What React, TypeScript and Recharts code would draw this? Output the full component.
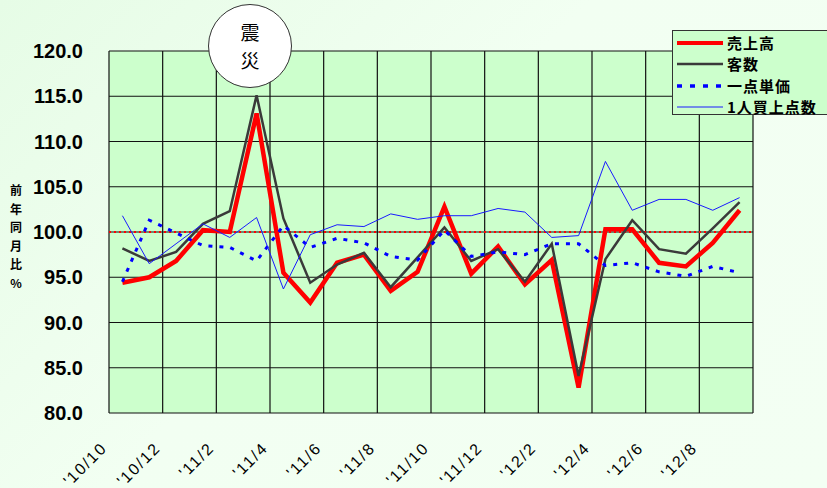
import React from 'react';
import {
    LineChart,
    Line,
    XAxis,
    YAxis,
    CartesianGrid,
    ReferenceLine,
} from 'recharts';

// 24 months, '10/10 .. '12/9
const months = [
    "'10/10", "'10/11", "'10/12", "'11/1", "'11/2", "'11/3", "'11/4", "'11/5",
    "'11/6", "'11/7", "'11/8", "'11/9", "'11/10", "'11/11", "'11/12", "'12/1",
    "'12/2", "'12/3", "'12/4", "'12/5", "'12/6", "'12/7", "'12/8", "'12/9",
];

// 売上高
const sales = [
    94.4, 95.0, 96.8, 100.2, 100.0, 113.1, 95.5, 92.2,
    96.6, 97.5, 93.5, 95.6, 102.8, 95.4, 98.4, 94.2,
    96.9, 82.8, 100.3, 100.3, 96.6, 96.2, 98.8, 102.4,
];

// 客数
const customers = [
    98.2, 96.8, 97.8, 100.9, 102.3, 115.1, 101.5, 94.4,
    96.4, 97.7, 93.9, 97.2, 100.5, 96.8, 98.1, 94.5,
    98.7, 84.1, 97.0, 101.3, 98.1, 97.6, 100.4, 103.3,
];

// 一点単価
const unitPrice = [
    94.5, 101.3, 99.9, 98.5, 98.3, 96.8, 100.7, 98.3,
    99.3, 98.8, 97.3, 96.9, 100.2, 97.3, 97.8, 97.5,
    98.7, 98.7, 96.3, 96.6, 95.6, 95.1, 96.2, 95.5,
];

// 1人買上点数
const itemsPerCustomer = [
    101.8, 96.5, 98.7, 100.9, 99.4, 101.6, 93.7, 99.7,
    100.8, 100.6, 102.0, 101.4, 101.8, 101.8, 102.6, 102.2,
    99.4, 99.6, 107.8, 102.4, 103.6, 103.6, 102.4, 103.8,
];

const xTickLabels = [
    "'10/10", "'10/12", "'11/2", "'11/4", "'11/6", "'11/8",
    "'11/10", "'11/12", "'12/2", "'12/4", "'12/6", "'12/8",
];

const yTicks = [80, 85, 90, 95, 100, 105, 110, 115, 120];

const legendItems = [
    { name: '売上高', color: '#ff0000', width: 4, dash: undefined },
    { name: '客数', color: '#3a3a3a', width: 2.5, dash: undefined },
    { name: '一点単価', color: '#0000ff', width: 3.5, dash: '5 8' },
    { name: '1人買上点数', color: '#1a1aff', width: 1, dash: undefined },
];

const data = months.map((m, i) => ({
    x: i + 0.5,
    month: m,
    sales: sales[i],
    customers: customers[i],
    unitPrice: unitPrice[i],
    items: itemsPerCustomer[i],
}));

const xTicks = Array.from({ length: 13 }, (_, i) => i * 2);

const MonthTick = (props: any) => {
    const { x, y, payload } = props;
    const label = xTickLabels[payload.value / 2];
    if (!label) return null;
    const ax = x - 1;
    const ay = y + 28;
    return (
        <text
            x={ax}
            y={ay}
            transform={`rotate(-45 ${ax} ${ay})`}
            textAnchor="end"
            fontSize={16}
            letterSpacing={1.8}
            fontFamily="'Liberation Sans', Arial, sans-serif"
            fill="#000"
        >
            {label}
        </text>
    );
};

const LegendBox = () => (
    <div
        style={{
            position: 'absolute',
            left: 672,
            top: 30,
            width: 170,
            height: 85,
            background: '#ccffcc',
            border: '1px solid #333',
            boxSizing: 'border-box',
            paddingTop: 1,
        }}
    >
        {legendItems.map((item) => (
            <div key={item.name} style={{ display: 'flex', alignItems: 'center', height: 21.5 }}>
                <svg width={54} height={10} style={{ marginLeft: 4 }}>
                    <line
                        x1={0}
                        y1={5}
                        x2={46}
                        y2={5}
                        stroke={item.color}
                        strokeWidth={item.width}
                        strokeDasharray={item.dash}
                    />
                </svg>
                <span
                    style={{
                        fontFamily: "'Noto Sans CJK JP', 'Liberation Sans', sans-serif",
                        fontWeight: 700,
                        fontSize: 15,
                        lineHeight: '20px',
                        color: '#000',
                        marginLeft: -4,
                        letterSpacing: 1,
                    }}
                >
                    {item.name}
                </span>
            </div>
        ))}
    </div>
);

export default function App() {
    return (
        <div
            style={{
                position: 'absolute',
                left: 0,
                top: 0,
                width: 827,
                height: 488,
                overflow: 'hidden',
                background: 'linear-gradient(135deg, #e6fce6 0%, #f2fff2 45%, #f3fff3 100%)',
            }}
        >
            <LineChart
                width={827}
                height={488}
                data={data}
                margin={{ top: 51, right: 74, bottom: 0, left: 0 }}
            >
                <CartesianGrid stroke="#111" strokeWidth={1.2} fill="#ccffcc" />
                <XAxis
                    dataKey="x"
                    type="number"
                    domain={[0, 24]}
                    ticks={xTicks}
                    interval={0}
                    height={75}
                    axisLine={false}
                    tickLine={false}
                    tick={<MonthTick />}
                />
                <YAxis
                    type="number"
                    domain={[80, 120]}
                    ticks={yTicks}
                    interval={0}
                    width={109}
                    axisLine={false}
                    tickLine={false}
                    tickMargin={20}
                    tickFormatter={(v: number) => v.toFixed(1)}
                    tick={{
                        fill: '#000',
                        fontSize: 20,
                        fontWeight: 700,
                        fontFamily: "'Liberation Sans', Arial, sans-serif",
                    }}
                />
                <ReferenceLine y={100} stroke="#ff0000" strokeWidth={2} strokeDasharray="2 3" />
                <Line
                    dataKey="sales"
                    name="売上高"
                    stroke="#ff0000"
                    strokeWidth={4.5}
                    dot={false}
                    isAnimationActive={false}
                />
                <Line
                    dataKey="customers"
                    name="客数"
                    stroke="#3a3a3a"
                    strokeWidth={2.5}
                    dot={false}
                    isAnimationActive={false}
                />
                <Line
                    dataKey="unitPrice"
                    name="一点単価"
                    stroke="#0000ff"
                    strokeWidth={3}
                    strokeDasharray="4 7"
                    dot={false}
                    isAnimationActive={false}
                />
                <Line
                    dataKey="items"
                    name="1人買上点数"
                    stroke="#1a1aff"
                    strokeWidth={1}
                    dot={false}
                    isAnimationActive={false}
                />
            </LineChart>

            <LegendBox />

            {/* 震災 marker */}
            <div
                style={{
                    position: 'absolute',
                    left: 208,
                    top: 4,
                    width: 84,
                    height: 84,
                    borderRadius: '50%',
                    border: '1px solid #333',
                    boxSizing: 'border-box',
                    background: '#fff',
                    display: 'flex',
                    flexDirection: 'column',
                    alignItems: 'center',
                    justifyContent: 'center',
                    fontFamily: "'Noto Sans CJK JP', sans-serif",
                    fontSize: 19,
                    lineHeight: '28px',
                    color: '#000',
                }}
            >
                <span style={{ display: 'block', height: 28 }}>震</span>
                <span style={{ display: 'block', height: 28 }}>災</span>
            </div>

            {/* y axis title */}
            <div
                style={{
                    position: 'absolute',
                    left: 8,
                    top: 181,
                    width: 16,
                    fontFamily: "'Noto Sans CJK JP', sans-serif",
                    fontSize: 12,
                    fontWeight: 700,
                    lineHeight: '18.5px',
                    textAlign: 'center',
                    color: '#000',
                }}
            >
                {['前', '年', '同', '月', '比', '%'].map((c) => (
                    <div key={c}>{c}</div>
                ))}
            </div>
        </div>
    );
}
